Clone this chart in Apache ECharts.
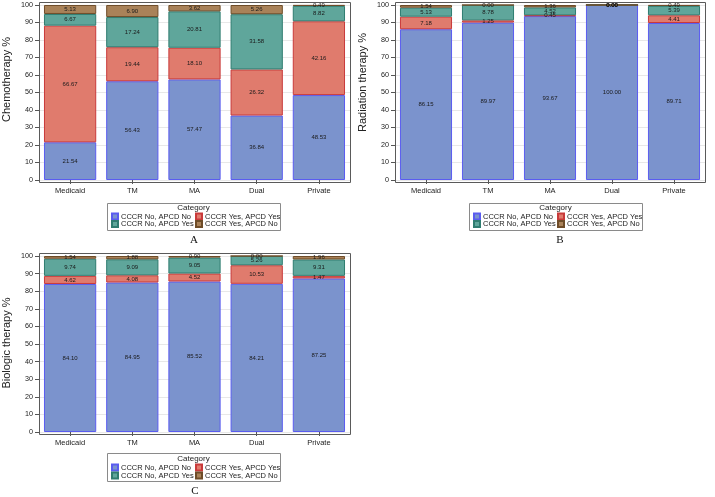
<!DOCTYPE html>
<html>
<head>
<meta charset="utf-8">
<script src="https://cdn.jsdelivr.net/npm/echarts@6/dist/echarts.min.js"></script>
<style>html,body{margin:0;padding:0;background:#fff}#c{width:715px;height:497px}</style>
</head>
<body>
<div id="c"></div>
<script>
const categories = ['Medicaid', 'TM', 'MA', 'Dual', 'Private'];
const seriesNames = ['CCCR No, APCD No', 'CCCR Yes, APCD Yes', 'CCCR No, APCD Yes', 'CCCR Yes, APCD No'];
const yTickInterval = 10;
const legendTitle = 'Category';

const chemoNoNo   = [21.54, 56.43, 57.47, 36.84, 48.53];
const chemoYesYes = [66.67, 19.44, 18.10, 26.32, 42.16];
const chemoNoYes  = [6.67, 17.24, 20.81, 31.58, 8.82];
const chemoYesNo  = [5.13, 6.90, 3.62, 5.26, 0.49];

const radNoNo   = [86.15, 89.97, 93.67, 100.00, 89.71];
const radYesYes = [7.18, 1.25, 0.45, 0.00, 4.41];
const radNoYes  = [5.13, 8.78, 4.52, 0.00, 5.39];
const radYesNo  = [1.54, 0.00, 1.36, 0.00, 0.49];

const bioNoNo   = [84.10, 84.95, 85.52, 84.21, 87.25];
const bioYesYes = [4.62, 4.08, 4.52, 10.53, 1.47];
const bioNoYes  = [9.74, 9.09, 9.05, 5.26, 9.31];
const bioYesNo  = [1.54, 1.88, 0.90, 0.00, 1.96];

const panelTitles = ['Chemotherapy %', 'Radiation therapy %', 'Biologic therapy %'];
const panelLetters = ['A', 'B', 'C'];

const panelData = [
  [chemoNoNo, chemoYesYes, chemoNoYes, chemoYesNo],
  [radNoNo, radYesYes, radNoYes, radYesNo],
  [bioNoNo, bioYesYes, bioNoYes, bioYesNo]
];

const fills   = ['#7b93cd', '#e07b6d', '#5fa69b', '#a98259'];
const borders = ['#5a5cf0', '#c93a3a', '#2f7c70', '#6e4c28'];

// layout
const layout = [
  { left: 39,  top: 5,   width: 311, height: 175, frame: [39, 2, 311, 180], nameShift: 26,
    box: [107, 203, 173, 27], catY: 208, rows: [217, 224.5], cols: [111, 195], letter: [194, 240] },
  { left: 395, top: 5,   width: 310, height: 175, frame: [395, 2, 310, 180], nameShift: 20,
    box: [469, 203, 173, 27], catY: 208, rows: [217, 224.5], cols: [473, 557], letter: [560, 240] },
  { left: 39,  top: 256, width: 311, height: 176, frame: [39, 253, 311, 181], nameShift: 2,
    box: [107, 453, 173, 28], catY: 459, rows: [468, 476], cols: [111, 195], letter: [195, 491] }
];

const font = 'Liberation Sans, Arial, sans-serif';
const grids = [], xAxes = [], yAxes = [], series = [], legends = [], graphics = [];

layout.forEach((L, p) => {
  grids.push({ left: L.left, top: L.top, width: L.width, height: L.height, containLabel: false });
  xAxes.push({
    type: 'category', gridIndex: p, data: categories, offset: 2,
    axisLine: { show: false },
    axisTick: { show: true, alignWithLabel: true, length: 4, lineStyle: { color: '#555' } },
    axisLabel: { fontSize: 7.5, color: '#222', margin: 5, fontFamily: font }
  });
  yAxes.push({
    type: 'value', gridIndex: p, min: 0, max: 100, interval: yTickInterval,
    name: panelTitles[p], nameLocation: 'middle', nameGap: 27,
    nameTextStyle: { fontSize: 11, color: '#222', fontFamily: font, padding: [0, 0, 0, L.nameShift] },
    axisLine: { show: false },
    axisTick: { show: true, length: 4, lineStyle: { color: '#555' } },
    axisLabel: { fontSize: 7.2, color: '#222', margin: 6, fontFamily: font },
    splitLine: { show: true, lineStyle: { color: '#e8e8e8', width: 1 } }
  });
  panelData[p].forEach((vals, s) => {
    series.push({
      type: 'bar', name: seriesNames[s], xAxisIndex: p, yAxisIndex: p, stack: 'p' + p,
      data: vals, barCategoryGap: '16%',
      itemStyle: { color: fills[s], borderColor: borders[s], borderWidth: 1 },
      label: {
        show: true, position: 'inside', fontSize: 6, color: '#1a1a1a', fontFamily: font,
        formatter: (d) => Number(d.value).toFixed(2)
      },
      emphasis: { disabled: true }
    });
  });
  // legend items: 2 columns x 2 rows
  const order = [[0, 0, 0], [1, 0, 1], [2, 1, 0], [3, 1, 1]];
  order.forEach(([s, r, c]) => {
    legends.push({
      data: [seriesNames[s]], left: L.cols[c], top: L.rows[r] - 4.5, padding: 0,
      itemWidth: 6, itemHeight: 6, itemGap: 0, icon: 'rect',
      textStyle: { fontSize: 7.5, color: '#222', fontFamily: font, padding: [0, 0, 0, -2] },
      selectedMode: false
    });
  });
  graphics.push({
    type: 'rect', shape: { x: L.frame[0] + 0.5, y: L.frame[1] + 0.5, width: L.frame[2], height: L.frame[3] },
    style: { fill: null, stroke: '#5a5a5a', lineWidth: 1 }, silent: true, z: 10
  });
  graphics.push({
    type: 'rect', shape: { x: L.box[0] + 0.5, y: L.box[1] + 0.5, width: L.box[2], height: L.box[3] },
    style: { fill: null, stroke: '#8a8a8a', lineWidth: 1 }, silent: true
  });
  graphics.push({
    type: 'text', x: L.box[0] + L.box[2] / 2, y: L.catY,
    style: { text: legendTitle, fontSize: 8, fill: '#222', fontFamily: font, align: 'center', verticalAlign: 'middle' }
  });
  graphics.push({
    type: 'text', x: L.letter[0], y: L.letter[1],
    style: { text: panelLetters[p], fontSize: 11, fill: '#111', fontFamily: 'Liberation Serif, Times New Roman, serif', align: 'center', verticalAlign: 'middle' }
  });
});

const chart = echarts.init(document.getElementById('c'), null, { renderer: 'canvas' });
chart.setOption({
  animation: false,
  backgroundColor: '#fff',
  grid: grids, xAxis: xAxes, yAxis: yAxes, series: series, legend: legends,
  graphic: graphics
});
</script>
</body>
</html>
